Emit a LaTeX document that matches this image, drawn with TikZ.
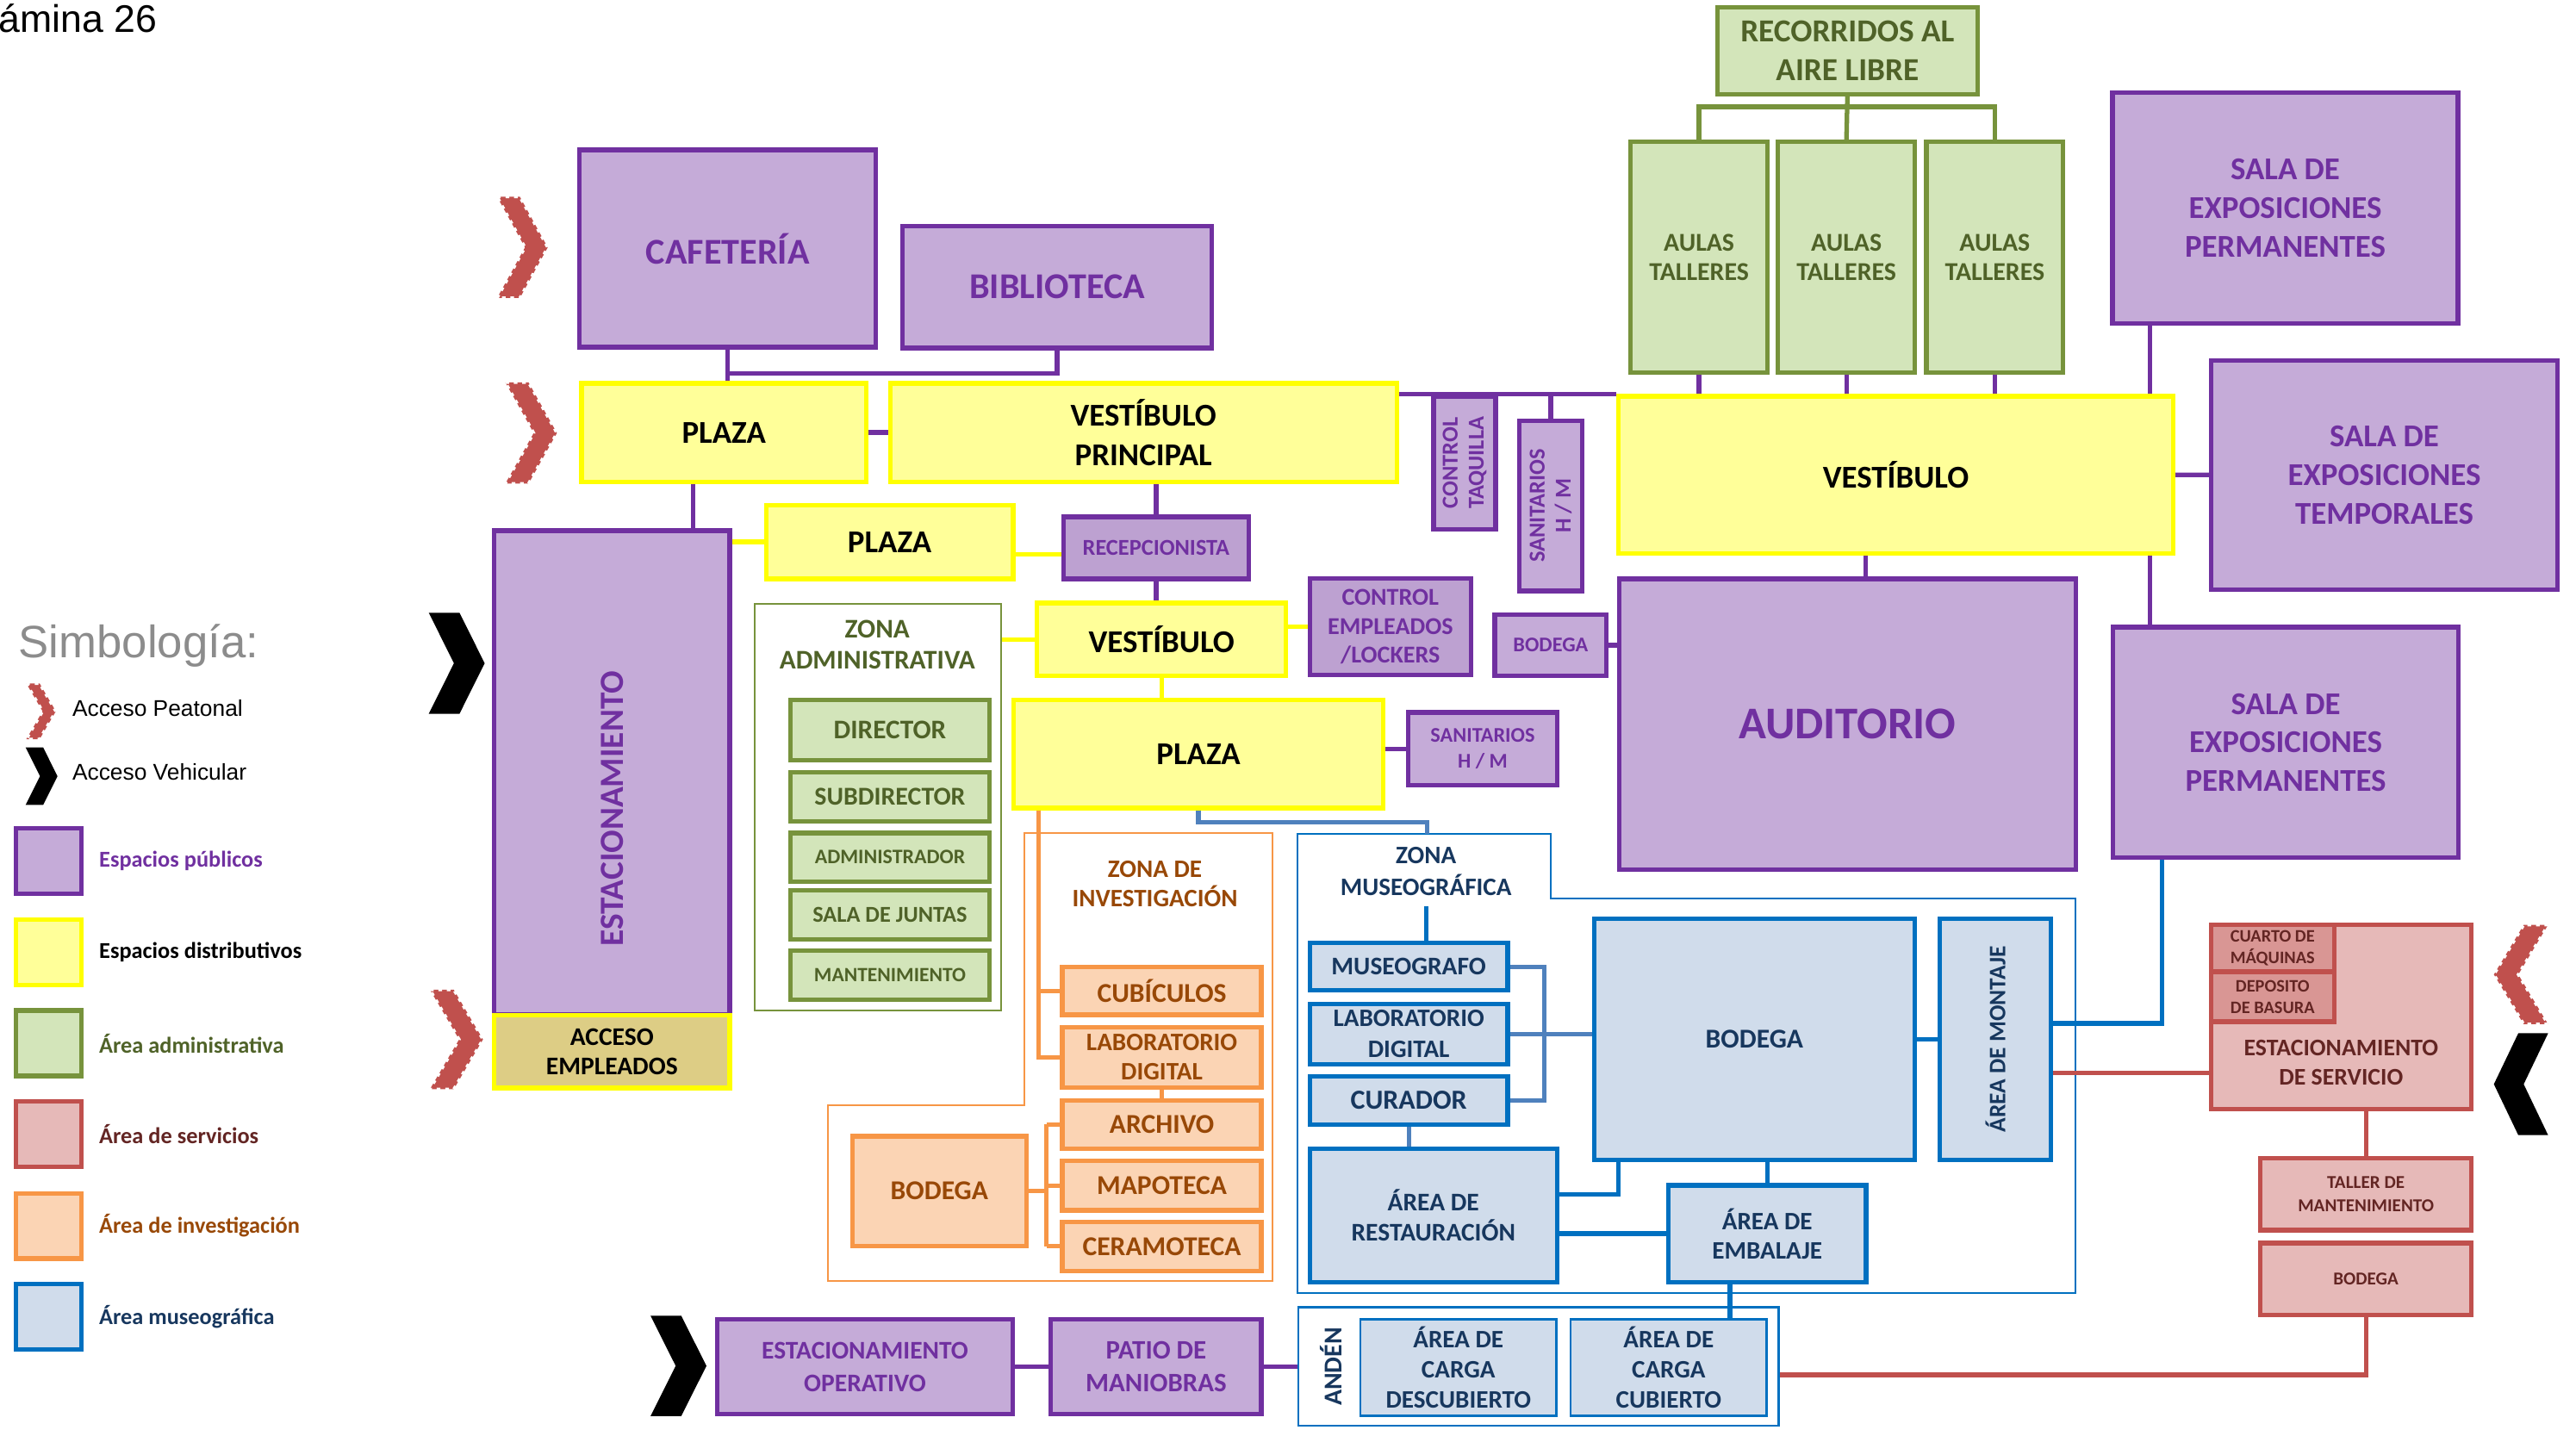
\documentclass[tikz,border=0pt]{standalone}
\usepackage{fontspec}
\setmainfont{Carlito}
\newfontfamily\arialf{Liberation Sans}
\usetikzlibrary{positioning}

\definecolor{publine}{HTML}{7030A0}
\definecolor{pubfill}{HTML}{C5ABD8}
\definecolor{pubdark}{HTML}{BDA1D1}
\definecolor{disline}{HTML}{FFFF00}
\definecolor{disfill}{HTML}{FFFF99}
\definecolor{admline}{HTML}{77933C}
\definecolor{admfill}{HTML}{D3E5BA}
\definecolor{admtext}{HTML}{4F6228}
\definecolor{invline}{HTML}{F79646}
\definecolor{invfill}{HTML}{FBD4B4}
\definecolor{invtext}{HTML}{984807}
\definecolor{musline}{HTML}{0070C0}
\definecolor{musfill}{HTML}{D0DCEB}
\definecolor{mustext}{HTML}{17375E}
\definecolor{musstl}{HTML}{4F81BD}
\definecolor{srvline}{HTML}{C0504D}
\definecolor{srvfill}{HTML}{E6B9B8}
\definecolor{srvdark}{HTML}{D99694}
\definecolor{srvtext}{HTML}{632523}
\definecolor{accfill}{HTML}{DDCD85}

\newcommand\unitpx{0.5406pt}
\newcommand\fs[2]{\bfseries\fontsize{#1}{#2}\selectfont}

\begin{document}
\begin{tikzpicture}[x=0.019069cm, y=-0.019069cm,
  box/.style={draw, line width=1.5pt, inner sep=1pt, align=center},
  wh/.style 2 args={minimum width=#1*\unitpx, minimum height=#2*\unitpx},
  pub/.style={box, draw=publine, fill=pubfill, text=publine},
  dis/.style={box, draw=disline, fill=disfill, text=black},
  adm/.style={box, draw=admline, fill=admfill, text=admtext},
  inv/.style={box, draw=invline, fill=invfill, text=invtext},
  mus/.style={box, draw=musline, fill=musfill, text=mustext},
  srv/.style={box, draw=srvline, fill=srvfill, text=srvtext},
  zone/.style={draw, line width=0.6pt},
  lpub/.style={draw=publine, line width=1.5pt},
  ldis/.style={draw=disline, line width=1.5pt},
  ladm/.style={draw=admline, line width=1.5pt},
  linv/.style={draw=invline, line width=1.5pt},
  lmus/.style={draw=musline, line width=1.5pt},
  lstl/.style={draw=musstl, line width=1.5pt},
  lsrv/.style={draw=srvline, line width=1.5pt},
  lgar/.style={font=\arialf\fontsize{7.5}{9}\selectfont, inner sep=0, anchor=west},
  lgtx/.style={font=\fs{7.5}{9}, inner sep=0},
  pics/vacc/.style={code={\fill[black] (0,0) -- (0.55,0) -- (1,0.5) -- (0.55,1) -- (0,1) -- (0.45,0.5) -- cycle;}},
  pics/pacc/.style={code={\fill[srvline] (0,0) -- (0.45,0) -- (1,0.5) -- (0.45,1) -- (0,1) -- (0.55,0.5) -- cycle;
    \draw[white, line width=1pt, dash pattern=on 1.2pt off 1.6pt] (0,0) -- (0.45,0) -- (1,0.5) -- (0.45,1) -- (0,1) -- (0.55,0.5) -- cycle;}}]
\useasboundingbox (0,0) rectangle (1568,870);

% titulo y simbologia
\node[font=\arialf\fontsize{12.7}{14}\selectfont, anchor=base west, inner sep=0] (tit) at (-1,19.5) {ámina 26};
\node[font=\arialf\fontsize{15}{17}\selectfont, text=black!45, anchor=west, inner sep=0] (sim) at (11,393) {Simbología:};
\pic[xscale=18, yscale=34] at (16,416) {pacc};
\node[lgar] (lgpe) at (43.7,431) {Acceso Peatonal};
\pic[xscale=19.4, yscale=35] at (15.6,455) {vacc};
\node[lgar] (lgve) at (43.7,470) {Acceso Vehicular};
\node[box, draw=publine, fill=pubfill, wh={40}{40}] (lgpu) at (29.5,524.3) {};
\node[lgtx, right=5pt of lgpu, text=publine] {Espacios públicos};
\node[box, draw=disline, fill=disfill, wh={40}{40}] (lgdi) at (29.5,579.6) {};
\node[lgtx, right=5pt of lgdi, text=black] {Espacios distributivos};
\node[box, draw=admline, fill=admfill, wh={40}{40}] (lgad) at (29.5,635.1) {};
\node[lgtx, right=5pt of lgad, text=admtext] {Área administrativa};
\node[box, draw=srvline, fill=srvfill, wh={40}{40}] (lgsr) at (29.5,690.5) {};
\node[lgtx, right=5pt of lgsr, text=srvtext] {Área de servicios};
\node[box, draw=invline, fill=invfill, wh={40}{40}] (lgin) at (29.5,746.3) {};
\node[lgtx, right=5pt of lgin, text=invtext] {Área de investigación};
\node[box, draw=musline, fill=musfill, wh={40}{40}] (lgmu) at (29.5,801.7) {};
\node[lgtx, right=5pt of lgmu, text=mustext] {Área museográfica};

% accesos
\pic[xscale=30.8, yscale=61.6] at (302.6,119.8) {pacc};
\pic[xscale=31.4, yscale=61.6] at (307.6,232.8) {pacc};
\pic[xscale=34, yscale=61.5] at (261,373) {vacc};
\pic[xscale=32.3, yscale=60.5] at (261.7,602.5) {pacc};
\pic[xscale=34, yscale=61] at (396,801) {vacc};
\pic[xscale=-33, yscale=60.5] at (1551,563) {pacc};
\pic[xscale=-33, yscale=62] at (1551,629) {vacc};

% espacios publicos y distributivos
\node[pub, wh={181}{120.5}, font=\fs{12}{14}] (caf) at (443,151.3) {CAFETERÍA};
\node[pub, wh={189}{74.5}, font=\fs{12}{14}] (bib) at (643.5,174.7) {BIBLIOTECA};
\node[dis, wh={173.8}{60.2}, font=\fs{10.5}{13}] (plz) at (440.6,263.3) {PLAZA};
\node[dis, wh={309.6}{60.2}, font=\fs{10.5}{13}] (vpr) at (696,263.3) {VESTÍBULO\\PRINCIPAL};
\node[pub, rotate=90, wh={295.6}{144}, font=\fs{11.2}{13}] (est) at (372.5,470.2) {ESTACIONAMIENTO\hspace{24pt}\null};
\node[box, draw=disline, fill=accfill, wh={144}{44.3}, font=\fs{8.4}{9.7}] (acc) at (372.5,640.2) {ACCESO\\EMPLEADOS};
\node[dis, wh={151}{45}, font=\fs{10.5}{13}] (pl2) at (541.5,330) {PLAZA};
\node[pub, fill=pubdark, wh={113.4}{38}, font=\fs{7.5}{9}] (rec) at (703.7,333.5) {RECEPCIONISTA};
\node[dis, wh={152}{44.7}, font=\fs{10.5}{13}] (vmd) at (707,389.3) {VESTÍBULO};
\node[dis, wh={226}{66}, font=\fs{10.5}{13}] (pl3) at (729.5,459) {PLAZA};
\node[pub, rotate=90, wh={81.5}{38}, font=\fs{7.5}{8.6}] (ctq) at (891.5,281.8) {CONTROL\\TAQUILLA};
\node[pub, rotate=90, wh={104}{38.3}, font=\fs{7.5}{8.6}] (snv) at (943.9,307.9) {SANITARIOS\\H / M};
\node[pub, fill=pubdark, wh={98.6}{59}, font=\fs{8}{9.5}] (cem) at (846.3,381.5) {CONTROL\\EMPLEADOS\\/LOCKERS};
\node[pub, wh={68.3}{37.5}, font=\fs{6.9}{8}] (bdp) at (943.9,392.8) {BODEGA};
\node[pub, wh={91}{44.5}, font=\fs{6.9}{8.6}] (snh) at (902.5,455.8) {SANITARIOS\\H / M};
\node[pub, wh={279}{177.5}, font=\fs{15}{18}] (aud) at (1124.5,440.8) {AUDITORIO};
\node[dis, wh={339}{96}, font=\fs{10.5}{13}] (vbg) at (1154,289) {VESTÍBULO};
\node[adm, wh={159}{53.2}, font=\fs{10.6}{13}] (rcl) at (1124.5,30.8) {RECORRIDOS AL\\AIRE LIBRE};
\foreach \n/\x in {au1/1034.2, au2/1123.9, au3/1214.2}
  \node[adm, wh={83.6}{141}, font=\fs{8.5}{9.7}] (\n) at (\x,156.5) {AULAS\\TALLERES};
\node[pub, wh={211}{141.3}, font=\fs{10.5}{12.7}] (sp1) at (1391,126.7) {SALA DE\\EXPOSICIONES\\PERMANENTES};
\node[pub, wh={211.4}{140.3}, font=\fs{10.5}{12.7}] (stm) at (1451.3,289.2) {SALA DE\\EXPOSICIONES\\TEMPORALES};
\node[pub, wh={211.3}{141}, font=\fs{10.5}{12.7}] (sp2) at (1391.3,452) {SALA DE\\EXPOSICIONES\\PERMANENTES};
\node[pub, wh={180.3}{58}, font=\fs{8.4}{10.8}] (eop) at (526.5,832) {ESTACIONAMIENTO\\OPERATIVO};
\node[pub, wh={128.5}{58}, font=\fs{8.8}{10.8}] (pat) at (703.7,832) {PATIO DE\\MANIOBRAS};

% zona administrativa
\node[zone, draw=admline, wh={150.6}{248.6}] (zad) at (534.3,491.3) {};
\node[font=\fs{8.9}{10.3}, text=admtext, align=center] (zadl) at (534,392.5) {ZONA\\ADMINISTRATIVA};
\node[adm, wh={121.5}{37}, font=\fs{8.9}{10}] (dir) at (541.7,444.5) {DIRECTOR};
\node[adm, wh={121.5}{30}, font=\fs{8.5}{10}] (sdr) at (541.7,485) {SUBDIRECTOR};
\node[adm, wh={121.5}{29.6}, font=\fs{6.8}{8}] (adr) at (541.7,521.8) {ADMINISTRADOR};
\node[adm, wh={121.5}{30}, font=\fs{7.5}{9}] (sju) at (541.7,557) {SALA DE JUNTAS};
\node[adm, wh={121.5}{30}, font=\fs{6.7}{8}] (mnt) at (541.7,593.7) {MANTENIMIENTO};

% zona de investigacion
\draw[zone, draw=invline] (623.6,507) -- (774.6,507) -- (774.6,780) -- (503.8,780) -- (503.8,672.8) -- (623.6,672.8) -- cycle;
\node[font=\fs{8.3}{9.7}, text=invtext, align=center] (zinl) at (703,538) {ZONA DE\\INVESTIGACIÓN};
\node[inv, wh={121.6}{29.3}, font=\fs{9}{10}] (cub) at (707.2,603.2) {CUBÍCULOS};
\node[inv, wh={121.6}{36.7}, font=\fs{8.3}{9.7}] (lab) at (707.2,643.7) {LABORATORIO\\DIGITAL};
\node[inv, wh={121.6}{29.8}, font=\fs{9}{10}] (arc) at (707.2,684.6) {ARCHIVO};
\node[inv, wh={121.6}{30.2}, font=\fs{9}{10}] (map) at (707.2,721.7) {MAPOTECA};
\node[inv, wh={121.6}{30.1}, font=\fs{9}{10}] (cer) at (707.2,758.7) {CERAMOTECA};
\node[inv, wh={106.1}{67.2}, font=\fs{9}{10}] (bdo) at (571.8,725.1) {BODEGA};

% zona museografica
\draw[zone, draw=musline] (789.6,507.4) -- (944,507.4) -- (944,547) -- (1263.3,547) -- (1263.3,787) -- (789.6,787) -- cycle;
\coordinate (zmutop) at (868.8,507.4);
\node[font=\fs{8.3}{10.3}, text=mustext, align=center] (zmul) at (868,530.5) {ZONA\\MUSEOGRÁFICA};
\node[mus, wh={121}{29}, font=\fs{8.4}{10}] (mus) at (857.5,588.5) {MUSEOGRAFO};
\node[mus, wh={121}{37}, font=\fs{8.3}{10.3}] (lbd) at (857.5,629.5) {LABORATORIO\\DIGITAL};
\node[mus, wh={121}{29.6}, font=\fs{9.1}{10}] (cur) at (857.5,669.8) {CURADOR};
\node[mus, wh={151}{81.6}, font=\fs{8.4}{9.7}] (res) at (872.5,739.8) {ÁREA DE\\RESTAURACIÓN};
\node[mus, wh={195.7}{147.4}, font=\fs{9}{10}] (bdb) at (1067.9,632.7) {BODEGA};
\node[mus, rotate=90, wh={147.4}{68.1}, font=\fs{7.8}{9}] (mon) at (1214.6,632.7) {ÁREA DE MONTAJE};
\node[mus, wh={120.7}{59.2}, font=\fs{8.3}{9.7}] (emb) at (1075.7,751) {ÁREA DE\\EMBALAJE};
\node[zone, draw=musline, line width=0.8pt, wh={293.3}{72.4}] (anden) at (936.4,831.8) {};
\node[rotate=90, font=\fs{8.5}{10}, text=mustext] (andl) at (810,832) {ANDÉN};
\node[mus, line width=0.8pt, wh={119.8}{59}, font=\fs{8.3}{10}] (cde) at (887.7,832.5) {ÁREA DE\\CARGA\\DESCUBIERTO};
\node[mus, line width=0.8pt, wh={119.9}{59}, font=\fs{8.3}{10}] (ccu) at (1015.7,832.5) {ÁREA DE\\CARGA\\CUBIERTO};

% servicios
\node[srv, wh={158.9}{112.8}] (esv) at (1425,619.1) {};
\node[font=\fs{7.9}{9.7}, text=srvtext, align=center] (esvl) at (1425,647) {ESTACIONAMIENTO\\DE SERVICIO};
\node[srv, fill=srvdark, wh={75.4}{28.8}, font=\fs{5.8}{7}] (cmq) at (1383.3,577.1) {CUARTO DE\\MÁQUINAS};
\node[srv, fill=srvdark, wh={75.4}{30.5}, font=\fs{5.8}{7}] (dba) at (1383.3,606.8) {DEPOSITO\\DE BASURA};
\node[srv, wh={128.8}{44.2}, font=\fs{6}{7.5}] (tll) at (1440.1,726.9) {TALLER DE\\MANTENIMIENTO};
\node[srv, wh={128.8}{44}, font=\fs{6}{7.5}] (bdr) at (1440.1,778.7) {BODEGA};

% conexiones
\draw[lpub] (caf.south) -- (caf.south |- plz.north);
\draw[lpub] (bib.south) |- (caf.south |- 0,227.5);
\draw[lpub] (plz) -- (vpr);
\draw[lpub] (422,0 |- plz.south) -- (422,0 |- est.east);
\draw[lpub] (vpr.south -| rec.north) -- (rec.north);
\draw[lpub] (rec.south) -- (rec.south |- vmd.north);
\draw[lpub] (vpr.east |- vbg.north) -- (vbg.north west);
\draw[lpub] (snv.east) -- (snv.east |- vbg.north);
\foreach \n in {au1,au2,au3} \draw[lpub] (\n.south) -- (\n.south |- vbg.north);
\draw[lpub] (1308.5,0 |- sp1.south) -- (1308.5,0 |- vbg.north);
\draw[lpub] (vbg) -- (stm);
\draw[lpub] (1308.5,0 |- vbg.south) -- (1308.5,0 |- sp2.north);
\draw[lpub] (1135.6,0 |- vbg.south) -- (1135.6,0 |- aud.north);
\draw[lpub] (bdp) -- (bdp -| aud.west);
\draw[lpub] (pl3.east |- snh.west) -- (snh.west);
\draw[lpub] (eop) -- (pat);
\draw[lpub] (pat) -- (pat -| anden.west);
\draw[ladm] (rcl.south) -- (au2.north);
\foreach \n in {au1,au3} \draw[ladm] (rcl.south) -- ++(0,6.3) -| (\n.north);
\draw[ldis] (est.south |- 0,329.8) -- (pl2.west |- 0,329.8);
\draw[ldis] (pl2.east |- 0,337.5) -- (rec.west |- 0,337.5);
\draw[ldis] (zad.east |- vmd.west) -- (vmd.west);
\draw[ldis] (vmd.east |- cem.west) -- (cem.west);
\draw[ldis] (vmd.south) -- (vmd.south |- pl3.north);
\draw[linv] (632,0 |- pl3.south) -- (632,0 |- lab.west) -- (lab.west);
\draw[linv] (632,0 |- cub.west) -- (cub.west);
\draw[linv] (lab.south) -- (arc.north);
\draw[linv] (bdo.east) -- (637,0 |- bdo.east);
\draw[linv] (637,0 |- arc.west) -- (637,0 |- cer.west);
\foreach \n in {arc,map,cer} \draw[linv] (637,0 |- \n.west) -- (\n.west);
\draw[lstl] (pl3.south) -- (pl3.south |- 0,500.7) -| (zmutop);
\draw[lmus] (zmul.south) -- (zmul.south |- mus.north);
\draw[lstl] (mus.east) -- (940,0 |- mus.east) -- (940,0 |- cur.east) -- (cur.east);
\draw[lstl] (lbd.east) -- (lbd.east -| bdb.west);
\draw[lstl] (cur.south) -- (cur.south |- res.north);
\draw[lmus] (res.east |- 0,727) -| (985,0 |- bdb.south);
\draw[lmus] (res.east |- emb.west) -- (emb.west);
\draw[lmus] (bdb.south -| emb.north) -- (emb.north);
\draw[lmus] (bdb) -- (mon);
\draw[lmus] (mon.south |- 0,623) -| (1316,0 |- sp2.south);
\draw[lmus] (1053,0 |- emb.south) -- (1053,0 |- ccu.north);
\draw[lsrv] (mon.south |- 0,653) -- (esv.west |- 0,653);
\draw[lsrv] (esv.south -| tll.north) -- (tll.north);
\draw[lsrv] (bdr.south) -- (bdr.south |- 0,837) -- (anden.east |- 0,837);
\end{tikzpicture}
\end{document}
